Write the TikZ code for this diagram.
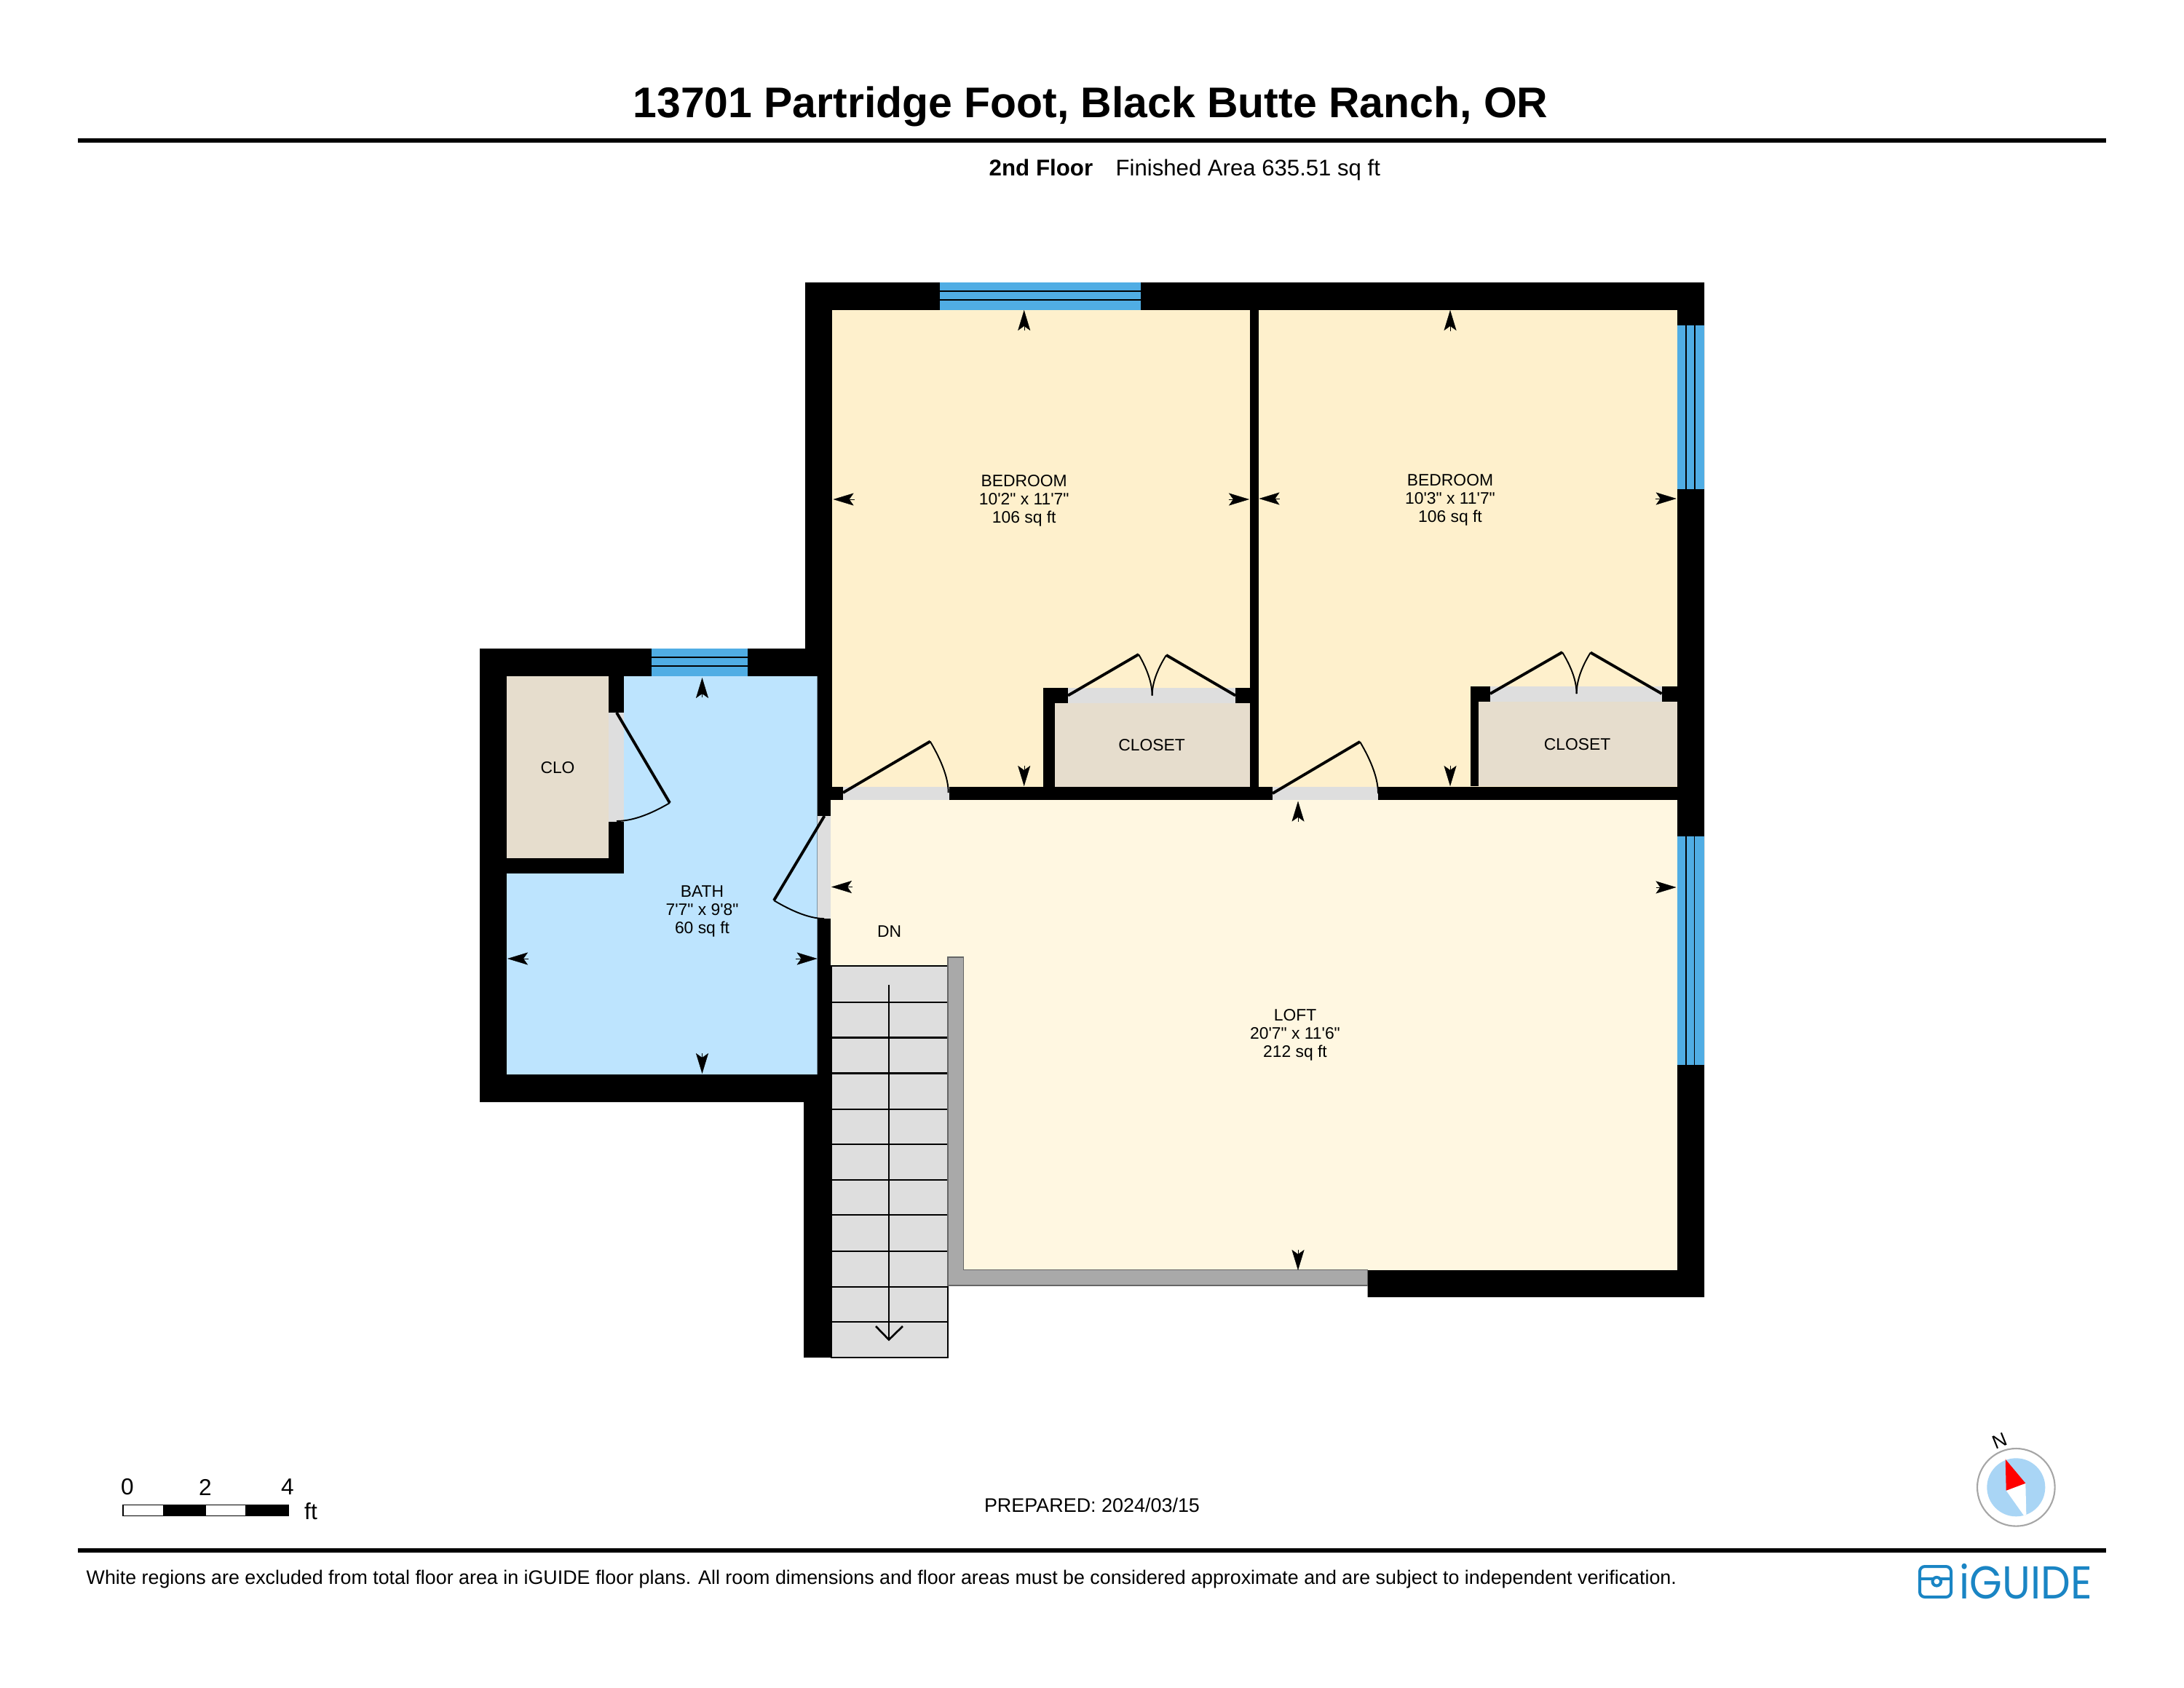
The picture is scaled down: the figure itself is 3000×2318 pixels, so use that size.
\documentclass[tikz,border=0pt]{standalone}
\usepackage{fontspec}
\usetikzlibrary{arrows.meta}
\newfontfamily\labelfont{Liberation Sans}
\newfontfamily\logofont{Poppins}
\definecolor{bedroomfill}{HTML}{FEF0CC}
\definecolor{loftfill}{HTML}{FFF7E1}
\definecolor{bathfill}{HTML}{BDE4FE}
\definecolor{closetfill}{HTML}{E6DDCD}
\definecolor{openingfill}{HTML}{DEDEDE}
\definecolor{railfill}{HTML}{A9A9A9}
\definecolor{windowfill}{HTML}{50ADE4}
\definecolor{compassfill}{HTML}{A9D5F5}
\definecolor{logoblue}{HTML}{1A85C4}
\tikzset{
  window/.style={fill=windowfill},
  paneline/.style={line width=0.45pt},
  leaf/.style={line width=1.1pt},
  swing/.style={line width=0.55pt},
  tread/.style={line width=0.75pt},
  dimtip/.style={line width=0.1pt, -{Stealth[length=0.28cm, width=0.17cm, inset=0.06cm]}},
  roomtext/.style={font=\labelfont\fontsize{6.5}{7.1}\selectfont, align=center, inner sep=0pt},
  headtext/.style={font=\labelfont\fontsize{9}{10}\selectfont, inner sep=0pt},
}
\begin{document}
\begin{tikzpicture}[x=0.01cm, y=-0.01cm]
    \useasboundingbox (0,0) rectangle (3000,2318);
    % header
    \node[inner sep=0pt, font=\labelfont\bfseries\fontsize{16.75}{20}\selectfont] (title) at (1498,146) {13701 Partridge Foot, Black Butte Ranch, OR};
    \draw[line width=1.6pt] (107,193) -- (2893,193);
    \node[headtext, anchor=base west, font=\labelfont\bfseries\fontsize{8.9}{10}\selectfont] (floorname) at (1358,241.5) {2nd Floor};
    \node[headtext, anchor=base west, font=\labelfont\fontsize{8.85}{10}\selectfont] (floorarea) at (1532,241.5) {Finished Area 635.51 sq ft};
    % walls
    \fill (1106,388) -- (2341,388) -- (2341,1782) -- (1878.5,1782) -- (1878.5,1745) -- (1142,1745) -- (1142,1865) -- (1104,1865) -- (1104,1514) -- (659,1514) -- (659,891) -- (1106,891) -- cycle;
    % rooms
    \fill[bedroomfill] (1143,426) rectangle (1716.5,1081);
    \fill[bedroomfill] (1728.5,426) rectangle (2304,1081);
    \fill[loftfill] (1141,1099) rectangle (2304,1745);
    \fill[bathfill] (857,929) -- (1122.6,929) -- (1122.6,1476) -- (696,1476) -- (696,1200) -- (857,1200) -- cycle;
    \fill[closetfill] (696,929) rectangle (836,1179);
    % closets of the bedrooms
    \fill (1433,945) rectangle (1716.5,1081);
    \fill[closetfill] (1449,966) rectangle (1716.5,1081);
    \fill[openingfill] (1467,945) rectangle (1697,966);
    \fill (2019.6,943) rectangle (2304,1080);
    \fill[closetfill] (2031,964.4) rectangle (2304,1080);
    \fill[openingfill] (2047,943) rectangle (2282.6,964.4);
    % door openings
    \fill[openingfill] (1158,1081) rectangle (1303.5,1099);
    \fill[openingfill] (1748,1081) rectangle (1893,1099);
    \fill[openingfill] (1122.6,1121) rectangle (1141,1262);
    \fill[openingfill] (836,979) rectangle (857,1129);
    % windows
    \fill[window] (1290.6,388) rectangle (1567.4,426);
    \draw[paneline] (1290.6,400) -- (1567.4,400);
    \draw[paneline] (1290.6,412) -- (1567.4,412);
    \fill[window] (895,891) rectangle (1027,929);
    \draw[paneline] (895,903) -- (1027,903);
    \draw[paneline] (895,915) -- (1027,915);
    \fill[window] (2304,446.5) rectangle (2341,671.5);
    \draw[paneline] (2316,446.5) -- (2316,671.5);
    \draw[paneline] (2328,446.5) -- (2328,671.5);
    \fill[window] (2304,1148.7) rectangle (2341,1463);
    \draw[paneline] (2316,1148.7) -- (2316,1463);
    \draw[paneline] (2327.5,1148.7) -- (2327.5,1463);
    % door leaves
    \draw[leaf] (1158,1089) -- (1277.7,1018.6);
    \draw[swing] (1277.7,1018.6) .. controls (1294.4,1047) and (1302.7,1070) .. (1302.7,1089);
    \draw[leaf] (1748,1090) -- (1868,1019);
    \draw[swing] (1868,1019) .. controls (1884.7,1047) and (1893,1071) .. (1893,1090);
    \draw[leaf] (847,979) -- (920,1103);
    \draw[swing] (920,1103) .. controls (891.7,1119.7) and (867.4,1128) .. (847,1128);
    \draw[leaf] (1132.4,1121) -- (1063,1237);
    \draw[swing] (1063,1237) .. controls (1091,1253.7) and (1113.9,1262) .. (1132,1262);
    \draw[leaf] (1467,955.5) -- (1564,899);
    \draw[swing] (1564,899) .. controls (1576.4,920.3) and (1582.6,939.2) .. (1582.6,955.5);
    \draw[leaf] (1697,955.5) -- (1602,900);
    \draw[swing] (1602,900) .. controls (1589,920.7) and (1582.6,939.2) .. (1582.6,955.5);
    \draw[leaf] (2047,953) -- (2146,896);
    \draw[swing] (2146,896) .. controls (2159,917.3) and (2165.6,936.3) .. (2165.6,953);
    \draw[leaf] (2282.6,953) -- (2184.8,896.5);
    \draw[swing] (2184.8,896.5) .. controls (2172,917) and (2165.6,936.3) .. (2165.6,953);
    % stairs
    \fill[openingfill] (1142,1327) rectangle (1302,1865);
    \draw[tread] (1142,1327) rectangle (1302,1865);
    \draw[tread] (1142,1377) -- (1302,1377);
    \draw[tread] (1142,1425.5) -- (1302,1425.5);
    \draw[tread] (1142,1474.5) -- (1302,1474.5);
    \draw[tread] (1142,1524) -- (1302,1524);
    \draw[tread] (1142,1572) -- (1302,1572);
    \draw[tread] (1142,1621) -- (1302,1621);
    \draw[tread] (1142,1669) -- (1302,1669);
    \draw[tread] (1142,1719) -- (1302,1719);
    \draw[tread] (1142,1768) -- (1302,1768);
    \draw[tread] (1142,1816) -- (1302,1816);
    \draw[tread] (1221,1353) -- (1221,1840.5);
    \draw[tread] (1203,1822) -- (1221,1840.5) -- (1240,1822);
    \draw[fill=railfill, draw=black!60, line width=0.4pt] (1302,1315) -- (1323.7,1315) -- (1323.7,1744.6) -- (1878.5,1744.6) -- (1878.5,1765.8) -- (1302,1765.8) -- cycle;
    % dimension marks
    \draw[dimtip] (1406.7,454) -- (1406.7,426);
    \draw[dimtip] (1406.7,1052) -- (1406.7,1080);
    \draw[dimtip] (1173.7,686) -- (1144.6,686);
    \draw[dimtip] (1687.5,686) -- (1716,686);
    \draw[dimtip] (1992,455) -- (1992,426);
    \draw[dimtip] (1992,1051.6) -- (1992,1080);
    \draw[dimtip] (1757.6,685) -- (1729.5,685);
    \draw[dimtip] (2273.7,685) -- (2302.7,685);
    \draw[dimtip] (964.5,958) -- (964.5,931);
    \draw[dimtip] (964.5,1447) -- (964.5,1475);
    \draw[dimtip] (726,1317) -- (697,1317);
    \draw[dimtip] (1093,1317) -- (1122.6,1317);
    \draw[dimtip] (1783,1128.7) -- (1783,1100.6);
    \draw[dimtip] (1783,1717) -- (1783,1745);
    \draw[dimtip] (1171,1218.5) -- (1142,1218.5);
    \draw[dimtip] (2274.5,1219) -- (2302.5,1219);
    % room labels
    \node[roomtext] (bedroomone) at (1406.7,688) {BEDROOM\\10'2" x 11'7"\\106 sq ft};
    \node[roomtext] (bedroomtwo) at (1992,686.5) {BEDROOM\\10'3" x 11'7"\\106 sq ft};
    \node[roomtext] (closetone) at (1582,1024) {CLOSET};
    \node[roomtext] (closettwo) at (2166.5,1022.5) {CLOSET};
    \node[roomtext] (closo) at (766,1055) {CLO};
    \node[roomtext] (bath) at (964.5,1252) {BATH\\7'7" x 9'8"\\60 sq ft};
    \node[roomtext] (dn) at (1221.7,1280) {DN};
    \node[roomtext] (loft) at (1779,1422) {LOFT\\20'7" x 11'6"\\212 sq ft};
    % scale bar
    \draw[line width=0.3pt] (169,2067) rectangle (396,2082);
    \fill (224,2067) rectangle (283,2082);
    \fill (337,2067) rectangle (396,2082);
    \node[headtext] (scalezero) at (175,2043) {0};
    \node[headtext] (scaletwo) at (282,2043) {2};
    \node[headtext] (scalefour) at (395,2043) {4};
    \node[headtext] (scaleunit) at (427,2076) {ft};
    % footer
    \node[headtext, font=\labelfont\fontsize{7.66}{10}\selectfont] (prepared) at (1500,2068) {PREPARED: 2024/03/15};
    \draw[line width=1.6pt] (107,2130) -- (2893,2130);
    \node[headtext, anchor=west, font=\labelfont\fontsize{7.63}{10}\selectfont] (disclaimer) at (118,2170) {White regions are excluded from total floor area in iGUIDE floor plans. All room dimensions and floor areas must be considered approximate and are subject to independent verification.};
    % compass
    \draw[fill=white, draw=black!35, line width=0.6pt] (2769.3,2043.3) circle (53.3*0.01cm);
    \fill[compassfill] (2769.3,2043.3) circle (40*0.01cm);
    \fill[white] (2755.7,2047.7) -- (2782.3,2037.7) -- (2783.3,2080.7) -- (2780,2082) -- cycle;
    \fill[red] (2754.7,2004.7) -- (2782.3,2037.7) -- (2755.7,2047.7) -- cycle;
    \node[headtext, rotate=22, font=\labelfont\fontsize{7.5}{8}\selectfont] (north) at (2746.7,1979) {N};
    % logo
    \draw[logoblue, line width=1.15pt, rounded corners=0.07cm] (2637,2152) rectangle (2680,2194);
    \draw[logoblue, line width=1.15pt] (2637,2169) -- (2654.5,2169);
    \draw[logoblue, line width=1.15pt] (2666,2169) -- (2680,2169);
    \draw[logoblue, line width=1.15pt] (2660.3,2172.7) circle (5.8*0.01cm);
    \node[inner sep=0pt, anchor=west, xscale=0.91, text=logoblue, font=\logofont\fontsize{18}{20}\selectfont] (logotext) at (2691,2173) {iGUIDE};
\end{tikzpicture}
\end{document}
